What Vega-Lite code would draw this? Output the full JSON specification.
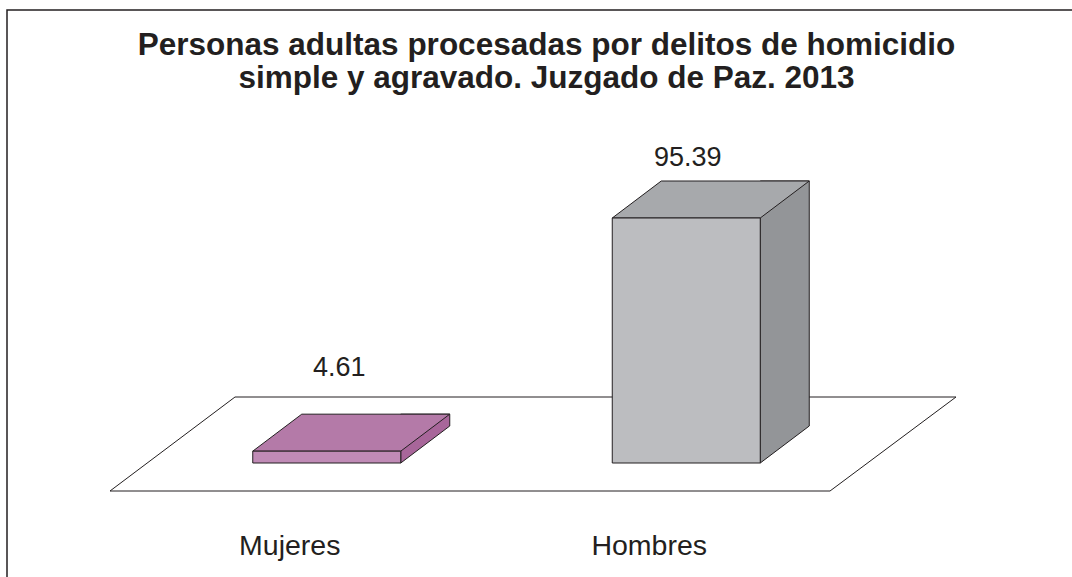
{
  "$schema": "https://vega.github.io/schema/vega-lite/v6.json",
  "width": 1065,
  "height": 567,
  "autosize": {"type": "none"},
  "padding": {"left": 7, "top": 10, "right": 0, "bottom": 0},
  "background": "white",
  "config": {
    "view": {"stroke": "#231F20", "strokeWidth": 1.5, "strokeDash": [1065, 1632, 567]},
    "font": "Liberation Sans"
  },
  "title": {
    "text": ["Personas adultas procesadas por delitos de homicidio", "simple y agravado. Juzgado de Paz. 2013"],
    "font": "Liberation Sans",
    "fontSize": 31.5,
    "fontWeight": "bold",
    "color": "#231F20",
    "anchor": "middle",
    "lineHeight": 32.5,
    "offset": -84,
    "dx": 7
  },
  "data": {
    "values": [
      {"sexo": "Mujeres", "pct": 4.61},
      {"sexo": "Hombres", "pct": 95.39}
    ]
  },
  "layer": [
    {
      "data": {"values": [{"plano": "piso"}]},
      "mark": {
        "type": "point",
        "shape": "M-429.5,28L290.5,28L416.5,-66L-304.5,-66Z",
        "size": 4,
        "filled": true,
        "fill": "white",
        "stroke": "#231F20",
        "strokeWidth": 1,
        "opacity": 1
      },
      "encoding": {
        "y": {"datum": 0, "type": "quantitative", "axis": null}
      }
    },
    {
      "mark": {
        "type": "bar",
        "width": 49,
        "xOffset": 98.5,
        "yOffset": -37,
        "y2Offset": 0,
        "stroke": "#231F20",
        "strokeWidth": 1
      },
      "encoding": {
        "x": {
          "field": "sexo",
          "type": "nominal",
          "axis": null,
          "sort": ["Mujeres", "Hombres"],
          "scale": {"domain": ["Mujeres", "Hombres"], "range": [140, 859], "paddingInner": 0, "paddingOuter": 0}
        },
        "y": {
          "field": "pct",
          "type": "quantitative",
          "axis": null,
          "scale": {"domain": [0, 100], "range": [453, 196.16], "nice": false, "zero": true}
        },
        "y2": {"datum": 0},
        "fill": {
          "condition": {"test": "datum.sexo === 'Mujeres'", "value": "#A8669A"},
          "value": "#939598"
        }
      }
    },
    {
      "mark": {
        "type": "point",
        "shape": "M74,0L123,-37L125,-37L125,2L74,2Z",
        "size": 4,
        "filled": true,
        "fill": "white",
        "strokeWidth": 0,
        "opacity": 1
      },
      "encoding": {
        "x": {"field": "sexo", "type": "nominal", "axis": null},
        "y": {"datum": 0, "type": "quantitative", "axis": null}
      }
    },
    {
      "mark": {
        "type": "point",
        "shape": "M74,0L123,-37",
        "size": 4,
        "filled": false,
        "stroke": "#231F20",
        "strokeWidth": 1,
        "opacity": 1
      },
      "encoding": {
        "x": {"field": "sexo", "type": "nominal", "axis": null},
        "y": {"datum": 0, "type": "quantitative", "axis": null}
      }
    },
    {
      "mark": {
        "type": "point",
        "shape": "M-74,0L74,0L123,-37L-25,-37Z",
        "size": 4,
        "filled": true,
        "stroke": "#231F20",
        "strokeWidth": 1,
        "opacity": 1
      },
      "encoding": {
        "x": {"field": "sexo", "type": "nominal", "axis": null},
        "y": {"field": "pct", "type": "quantitative", "axis": null},
        "fill": {
          "condition": {"test": "datum.sexo === 'Mujeres'", "value": "#B47AA8"},
          "value": "#A7A9AC"
        }
      }
    },
    {
      "mark": {
        "type": "bar",
        "width": 148,
        "stroke": "#231F20",
        "strokeWidth": 1
      },
      "encoding": {
        "x": {"field": "sexo", "type": "nominal", "axis": null},
        "y": {"field": "pct", "type": "quantitative", "axis": null},
        "fill": {
          "condition": {"test": "datum.sexo === 'Mujeres'", "value": "#C08BB6"},
          "value": "#BCBDC0"
        }
      }
    },
    {
      "transform": [{"filter": "datum.sexo === 'Mujeres'"}],
      "mark": {
        "type": "text",
        "font": "Liberation Sans",
        "fontSize": 27,
        "color": "#231F20",
        "baseline": "alphabetic",
        "align": "center",
        "dx": 12.5,
        "dy": -75
      },
      "encoding": {
        "x": {"field": "sexo", "type": "nominal", "axis": null},
        "y": {"field": "pct", "type": "quantitative", "axis": null},
        "text": {"field": "pct", "type": "quantitative", "format": ".2f"}
      }
    },
    {
      "transform": [{"filter": "datum.sexo === 'Hombres'"}],
      "mark": {
        "type": "text",
        "font": "Liberation Sans",
        "fontSize": 27,
        "color": "#231F20",
        "baseline": "alphabetic",
        "align": "center",
        "dx": 1.5,
        "dy": -52
      },
      "encoding": {
        "x": {"field": "sexo", "type": "nominal", "axis": null},
        "y": {"field": "pct", "type": "quantitative", "axis": null},
        "text": {"field": "pct", "type": "quantitative", "format": ".2f"}
      }
    },
    {
      "mark": {
        "type": "text",
        "font": "Liberation Sans",
        "fontSize": 28.5,
        "color": "#231F20",
        "baseline": "alphabetic",
        "align": "center",
        "dx": -37,
        "dy": 92
      },
      "encoding": {
        "x": {"field": "sexo", "type": "nominal", "axis": null},
        "y": {"datum": 0, "type": "quantitative", "axis": null},
        "text": {"field": "sexo", "type": "nominal"}
      }
    }
  ]
}
